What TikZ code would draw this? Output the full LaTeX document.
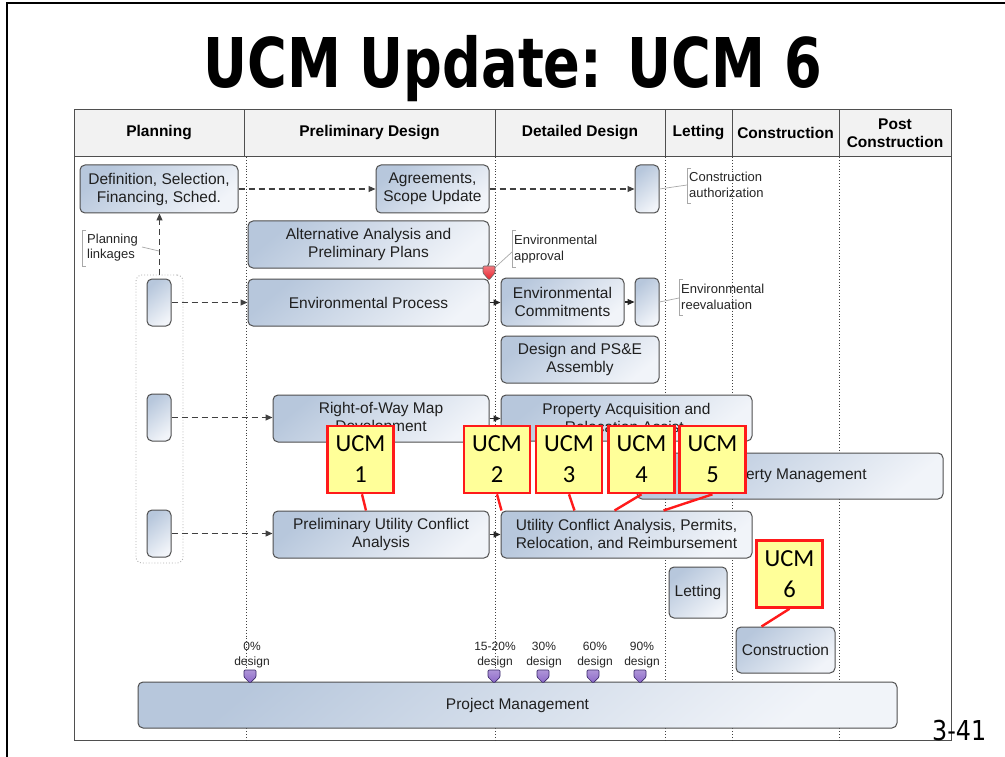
\documentclass[tikz,border=0pt]{standalone}
\usepackage{fontspec}
\setmainfont{Liberation Sans}
\newfontfamily\titlefont{DejaVu Sans}
\newfontfamily\ucmfont{Carlito}
\usetikzlibrary{arrows.meta}
\definecolor{boxdark}{HTML}{B7C7DC}
\definecolor{boxlight}{HTML}{F1F4F9}
\definecolor{boxline}{HTML}{4F4F4F}
\definecolor{hdrfill}{HTML}{F2F2F2}
\definecolor{ucmfill}{HTML}{FFFF99}
\definecolor{ucmred}{HTML}{FF1A1A}
\definecolor{annot}{HTML}{A8A8A8}
\definecolor{mspurple}{HTML}{8C68C8}
\definecolor{msline}{HTML}{3A2A6A}
\definecolor{mkred}{HTML}{E8202A}
\tikzset{
  proc/.style={draw=boxline, line width=1pt, rounded corners=5pt, top color=boxdark, bottom color=boxlight, shading angle=40, align=center, inner sep=0pt, font=\fontsize{15.5}{18}\selectfont, text=black!88},
  ucm/.style={draw=ucmred, line width=2.6pt, fill=ucmfill, minimum width=66pt, minimum height=67pt, inner sep=0pt, align=center, font=\ucmfont\fontsize{24.5}{31}\selectfont},
  ucmlink/.style={draw=ucmred, line width=2.4pt},
  hdr/.style={font=\bfseries\fontsize{15.5}{18}\selectfont, align=center, inner sep=0pt},
  dasharrow/.style={draw=black!75, line width=1.1pt, dash pattern=on 6pt off 4pt, -{Triangle[length=7pt,width=6pt]}},
  solidarrow/.style={draw=black!85, line width=1.1pt, -{Triangle[length=7pt,width=6pt]}},
  annottext/.style={font=\fontsize{13}{15.5}\selectfont, align=left, anchor=west, inner sep=0pt, text=black!85},
  annotline/.style={draw=annot, line width=0.7pt},
  colline/.style={draw=black!75, line width=0.9pt, dotted},
  framel/.style={draw=boxline, line width=1pt},
  mslabel/.style={font=\fontsize{12}{15}\selectfont, align=center, inner sep=0pt, text=black!85},
  msmark/.style={draw=msline, line width=0.7pt, top color=mspurple!70, bottom color=mspurple, rounded corners=1pt},
}
\begin{document}
\begin{tikzpicture}[x=1pt,y=-1pt]
\useasboundingbox (0,0) rectangle (1005,757);
\fill[white] (0,0) rectangle (1005,757);
% slide border
\draw[black, line width=1.6pt] (7,757) -- (7,3) -- (1005,3);
% title
\node[anchor=base, inner sep=0pt] (title) at (512.5,88) {\scalebox{0.79}[1]{\titlefont\bfseries\fontsize{68.6}{70}\selectfont UCM Update: UCM 6}};
% header row
\fill[hdrfill] (74,110) rectangle (951,157);
\draw[framel] (74,110) rectangle (951,740);
\draw[framel] (74,157) -- (951,157);
\foreach \x in {244,495,665,732,839} \draw[framel] (\x,110) -- (\x,157);
\foreach \x in {246,495,665,732,839} \draw[colline] (\x,157) -- (\x,740);
\node[hdr] (hplan) at (159,133) {Planning};
\node[hdr] (hprel) at (369.5,133) {Preliminary Design};
\node[hdr] (hdet) at (580,133) {Detailed Design};
\node[hdr] (hlet) at (698.5,133) {Letting};
\node[hdr] (hcon) at (785.5,133) {Construction};
\node[hdr] (hpost) at (895,133) {Post\\Construction};
% left container
\node[draw=black!30, dotted, line width=0.9pt, rounded corners=6pt, minimum width=47pt, minimum height=288pt, inner sep=0pt] (cont) at (159.5,419) {};
% process boxes
\node[proc, minimum width=158pt, minimum height=48pt] (defn) at (159,189) {Definition, Selection,\\Financing, Sched.};
\node[proc, minimum width=113pt, minimum height=48pt] (agree) at (432.5,189) {Agreements,\\Scope Update};
\node[proc, minimum width=24pt, minimum height=48pt] (cauth) at (647,189) {};
\node[proc, minimum width=241pt, minimum height=47pt] (alt) at (368.5,244.5) {Alternative Analysis and\\Preliminary Plans};
\node[proc, minimum width=241pt, minimum height=47pt] (envp) at (368.5,302.5) {Environmental Process};
\node[proc, minimum width=123pt, minimum height=48pt] (envc) at (562.5,302) {Environmental\\Commitments};
\node[proc, minimum width=24pt, minimum height=48pt] (envr) at (647,302) {};
\node[proc, minimum width=158pt, minimum height=47pt] (pse) at (580,359.5) {Design and PS\&E\\Assembly};
\node[proc, minimum width=216pt, minimum height=47pt] (row) at (381,418.5) {Right-of-Way Map\\Development};
\node[proc, minimum width=251pt, minimum height=46pt] (pacq) at (626.5,418) {Property Acquisition and\\Relocation Assist.};
\node[proc, minimum width=306pt, minimum height=46pt] (pmgmt) at (790,476) {Property Management};
\node[proc, minimum width=216pt, minimum height=47pt] (pucf) at (381,534.5) {Preliminary Utility Conflict\\Analysis};
\node[proc, minimum width=251pt, minimum height=47pt] (ucf) at (626.5,534.5) {Utility Conflict Analysis, Permits,\\Relocation, and Reimbursement};
\node[proc, minimum width=58pt, minimum height=51pt] (let) at (698,592.5) {Letting};
\node[proc, minimum width=99pt, minimum height=46pt] (cons) at (785.5,650) {Construction};
\node[proc, minimum width=759pt, minimum height=46pt] (pm) at (517.5,705) {Project Management};
\node[proc, minimum width=24pt, minimum height=47pt] (lb1) at (159,302.5) {};
\node[proc, minimum width=24pt, minimum height=47pt] (lb2) at (159,417.5) {};
\node[proc, minimum width=24pt, minimum height=47pt] (lb3) at (159,533.5) {};
% connectors
\draw[dasharrow] (defn.east) -- (agree.west);
\draw[dasharrow] (agree.east) -- (cauth.west);
\draw[dasharrow] (cont.north) -- (cont.north |- defn.south);
\draw[dasharrow] (lb1.east) -- (lb1.east -| envp.west);
\draw[dasharrow] (lb2.east) -- (lb2.east -| row.west);
\draw[dasharrow] (lb3.east) -- (lb3.east -| pucf.west);
\draw[solidarrow] (envp.east) -- (envp.east -| envc.west);
\draw[solidarrow] (envc.east) -- (envc.east -| envr.west);
\draw[solidarrow] (row.east) -- (row.east -| pacq.west);
\draw[solidarrow] (pucf.east) -- (pucf.east -| ucf.west);
% annotations
\coordinate (cab) at (687,185);
\draw[annotline] (691,168) -- (687,168) -- (687,203) -- (691,203);
\draw[annotline] (cauth.east) -- (cab);
\node[annottext] (catext) at (689,185) {Construction\\authorization};
\coordinate (ream) at (489,273);
\coordinate (eab) at (512,252);
\draw[annotline] (516,230) -- (512,230) -- (512,267) -- (516,267);
\draw[annotline] (ream) -- (eab);
\node[annottext] (eatext) at (514,249) {Environmental\\approval};
\draw[draw=black!60, line width=0.6pt, top color=mkred!60, bottom color=mkred, rounded corners=1pt] (483,266) -- (495,266) -- (495,273) -- (489,280) -- (483,273) -- cycle;
\coordinate (erb) at (679,298);
\draw[annotline] (683,279) -- (679,279) -- (679,315) -- (683,315);
\draw[annotline] (envr.east) -- (erb);
\node[annottext] (ertext) at (681,297) {Environmental\\reevaluation};
\coordinate (plb) at (142,247);
\coordinate (pld) at (159,251);
\draw[annotline] (86,230) -- (82,230) -- (82,266) -- (86,266);
\draw[annotline] (plb) -- (pld);
\node[annottext] (pltext) at (87,247.5) {Planning\\linkages};
% milestones
\node[mslabel] (ms0) at (252,655.5) {0\%\\design};
\node[mslabel] (ms15) at (495,655.5) {15-20\%\\design};
\node[mslabel] (ms30) at (544,655.5) {30\%\\design};
\node[mslabel] (ms60) at (595,655.5) {60\%\\design};
\node[mslabel] (ms90) at (642,655.5) {90\%\\design};
\foreach \x in {250,494,543,593,640}
  \draw[msmark] (\x-6,670) -- (\x+6,670) -- (\x+6,677) -- (\x,683) -- (\x-6,677) -- cycle;
% UCM boxes
\node[ucm] (ucm1) at (360.5,459.5) {UCM\\1};
\node[ucm] (ucm2) at (497,459.5) {UCM\\2};
\node[ucm] (ucm3) at (569,459.5) {UCM\\3};
\node[ucm] (ucm4) at (641.5,459.5) {UCM\\4};
\node[ucm] (ucm5) at (712.5,459.5) {UCM\\5};
\node[ucm] (ucm6) at (789.5,574) {UCM\\6};
\draw[ucmlink] ([xshift=1.5pt]ucm1.south) -- ([xshift=-15pt]pucf.north);
\draw[ucmlink] (ucm2.south) -- ([xshift=1pt]ucf.north west);
\draw[ucmlink] (ucm3.south) -- ([xshift=74pt]ucf.north west);
\draw[ucmlink] (ucm4.south) -- ([xshift=114pt]ucf.north west);
\draw[ucmlink] (ucm5.south) -- ([xshift=163pt]ucf.north west);
\draw[ucmlink] (ucm6.south) -- ([xshift=26pt]cons.north west);
% page number
\node[anchor=base west, inner sep=0pt] (pageno) at (932,740) {\scalebox{0.87}[1]{\titlefont\fontsize{27.4}{30}\selectfont 3-41}};
\end{tikzpicture}
\end{document}
